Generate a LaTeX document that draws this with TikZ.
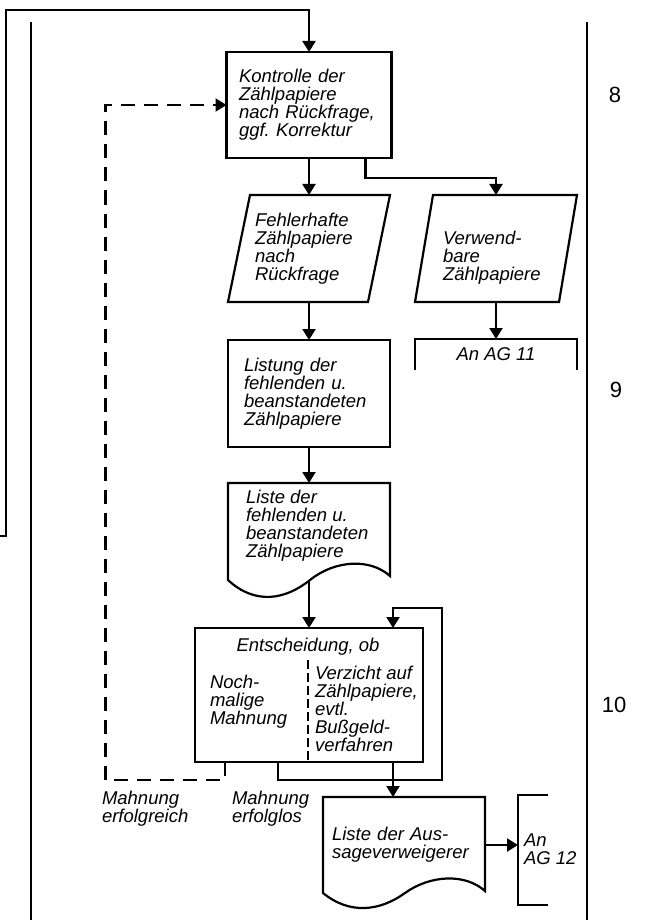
\documentclass[tikz,border=0pt]{standalone}
\usepackage{fontspec}
\setmainfont{Liberation Sans}
\usetikzlibrary{arrows.meta,calc}
\frenchspacing
\begin{document}
\begin{tikzpicture}[x=1pt,y=-1pt,line width=2.2pt,
  every node/.style={font=\fontsize{18.5}{18}\selectfont\itshape,inner sep=0pt,outer sep=0pt},
  box/.style={rectangle,draw,align=left},
  shp/.style={rectangle,align=left},
  txt/.style={align=left,anchor=west},
  num/.style={font=\fontsize{22}{22}\selectfont\upshape},
  arr/.style={-{Triangle[width=13pt,length=11pt]}},
  dsh/.style={dash pattern=on 14pt off 9pt}]
\useasboundingbox (0,0) rectangle (646,920);

% swimlane borders
\draw (31,22) -- (31,920);
\draw (587,22) -- (587,920);
\node[num] (n8) at (615,95) {8};
\node[num] (n9) at (616,390) {9};
\node[num] (n10) at (614,705) {10};

% shapes
\node[box,minimum width=165pt,minimum height=106pt,text width=140pt] (k) at (309,105)
  {Kontrolle der\\Zählpapiere\\nach Rückfrage,\\ggf. Korrektur};

\node[shp,minimum width=162pt,minimum height=107pt,text width=108pt] (p1) at (309,248.5)
  {Fehlerhafte\\Zählpapiere\\nach\\Rückfrage};
\draw (p1.south west) -- ($(p1.north west)+(22,0)$) -- (p1.north east) -- ($(p1.south east)+(-22,0)$) -- cycle;

\node[shp,minimum width=162pt,minimum height=107pt] (p2) at (496,248.5) {};
\draw (p2.south west) -- ($(p2.north west)+(18,0)$) -- (p2.north east) -- ($(p2.south east)+(-18,0)$) -- cycle;
\node[txt] (p2t) at (443,258) {Verwend-\\bare\\Zählpapiere};

\node[shp,minimum width=162pt,minimum height=31pt] (a11) at (496,354.5) {\raisebox{-3pt}{An AG 11}};
\draw (a11.south west) -- (a11.north west) -- (a11.north east) -- (a11.south east);

\node[box,minimum width=162pt,minimum height=107pt,text width=130pt] (l) at (309,393.5)
  {Listung der\\fehlenden u.\\beanstandeten\\Zählpapiere};

\node[shp,minimum width=162pt,minimum height=97pt] (d1) at (309,531.5) {};
\begin{scope}[shift={(d1.south west)}]
\draw (0,0) -- (0,-97) -- (162,-97) -- (162,-4) .. controls (142,-22) and (107,-20) .. (82,0)
  .. controls (57,20) and (27,25) .. (0,0) -- cycle;
\end{scope}
\node[txt] (d1t) at (246,526) {Liste der\\fehlenden u.\\beanstandeten\\Zählpapiere};

\node[box,minimum width=228pt,minimum height=134pt] (e) at (309,695) {};
\node (et) at (308,647) {Entscheidung, ob};
\node[txt] (el) at (210,702) {Noch-\\malige\\Mahnung};
\node[txt] (er) at (315,709) {Verzicht auf\\Zählpapiere,\\evtl.\\Bußgeld-\\verfahren};
\draw[dash pattern=on 9pt off 4pt] ($(e.south)+(-1,-102)$) -- ($(e.south)+(-1,0)$);

\node[shp,minimum width=162pt,minimum height=96pt,text width=144pt] (d2) at (404,845)
  {Liste der Aus-\\sageverweigerer};
\begin{scope}[shift={(d2.south west)}]
\draw (0,0) -- (0,-96) -- (162,-96) -- (162,-2) .. controls (142,-20) and (107,-18) .. (82,0)
  .. controls (57,18) and (27,22) .. (0,0) -- cycle;
\end{scope}

\node[shp,minimum width=30pt,minimum height=110pt,anchor=north west] (b12) at (518,795) {};
\draw (b12.north east) -- (b12.north west) -- (b12.south west) -- (b12.south east);
\node[txt] (a12) at (524,849) {An\\AG 12};

\node[txt] (lab1) at (102,809) {Mahnung\\erfolgreich};
\node[txt] (lab2) at (232,809) {Mahnung\\erfolglos};

% connectors
\coordinate (ofree) at (0,536);
\draw[arr] (ofree) -- (6,536) |- ($(k.north)+(0,-42)$) -- (k.north);

\draw[arr] (k.south) -- (p1.north);
\coordinate (ks) at ($(k.south east)+(-26,0)$);
\draw[arr] (ks) -- ++(0,20) -| (p2.north);
\draw[arr] (p2.south) -- (a11.north);
\draw[arr] (p1.south) -- (l.north);
\draw[arr] (l.south) -- (d1.north);
\draw[arr] (d1.south) -- (e.north);

\coordinate (eDL) at ($(e.south west)+(30,0)$);
\draw[dsh,arr] (eDL) -- ++(0,18) -| ($(k.west)+(-121,0)$) -- (k.west);

\coordinate (eL) at ($(e.south west)+(83,0)$);
\coordinate (eIn) at ($(e.north west)+(198,0)$);
\draw[arr] (eL) -- ++(0,18) -| ($(e.north east)+(19,-20)$) -| (eIn);

\coordinate (eOut) at ($(e.south west)+(198,0)$);
\draw[arr] (eOut) -- (eOut |- d2.north);
\draw[arr] (d2.east) -- (d2.east -| b12.west);
\end{tikzpicture}
\end{document}
